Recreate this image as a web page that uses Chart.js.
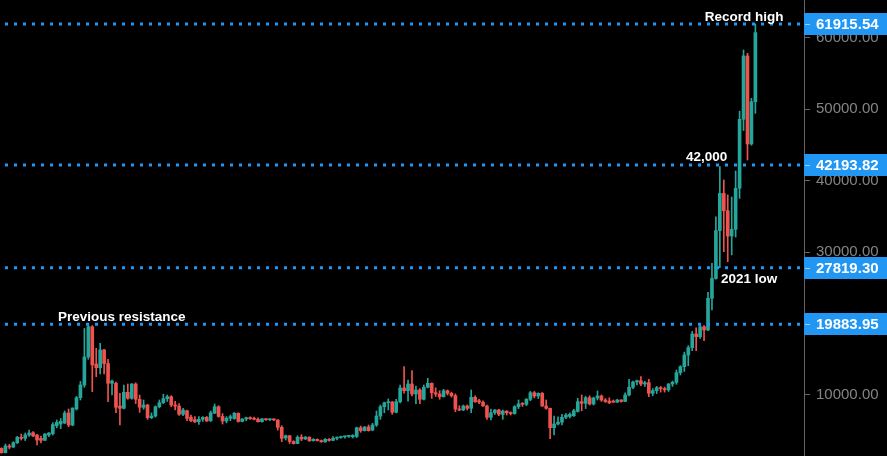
<!DOCTYPE html>
<html>
<head>
<meta charset="utf-8">
<script src="https://cdn.jsdelivr.net/npm/chart.js@4.4.1/dist/chart.umd.min.js"></script>
<style>
  html, body { margin: 0; padding: 0; background: #000; }
  #wrap { width: 887px; height: 456px; }
</style>
</head>
<body>
<div id="wrap"><canvas id="btcChart" width="887" height="456"></canvas></div>
<script>
// weekly candles, Jul 2017 -> Mar 2021
const opens = [
  2540,1930,2860,2720,3330,4080,3940,4400,4720,4400,3940,3660,4400,4600,5700,5940,6080,7480,5800,8040,
  9620,11400,15320,19550,14340,13820,16300,14400,11640,11640,8460,8140,10380,9540,11540,9400,8280,8600,6820,7060,
  8360,8920,9480,9760,8600,8460,7300,7800,6900,6560,6250,6600,6880,6400,7440,8360,7000,6360,6740,6700,
  7450,6300,6640,6820,6690,6600,6270,6670,6540,6600,6500,5480,4000,4300,3500,3200,4100,3850,4100,3600,
  3800,3620,3450,3800,3650,3950,4050,4150,4220,4150,4200,5420,5010,5520,5100,5800,7060,8360,8920,9020,
  7580,9060,10980,10600,11540,10140,10700,9400,11080,11640,10320,10140,9760,10600,10240,9900,8040,7900,8460,8140,
  9680,9200,9000,8460,6880,7520,7900,7300,7750,7520,7400,8360,8800,8700,9400,10320,9860,10240,8460,8140,
  5430,5940,6200,6880,7000,7100,7700,9060,8840,9620,8740,9580,9860,9300,9150,9150,9000,9300,9100,10000,
  11080,11820,12000,11540,11720,10240,10600,11020,10880,10720,11540,11780,13120,13960,15600,16620,18540,18160,19550,19100,
  23530,26300,33000,38200,35780,32240,33180,38920,48570,57430,45120,51030
];
const highs = [
  2620,3140,3100,3470,4220,4540,4680,5100,4870,4500,4260,4600,4750,6120,6500,6700,7760,8040,8200,9800,
  11900,19300,19884,19700,16530,17230,16400,15000,12100,11800,10240,11400,11540,11600,11700,10000,9300,8700,7500,8460,
  9300,10100,10000,9900,9100,8800,8140,7900,7200,6970,6970,6970,7000,7760,8740,8500,7400,6970,7200,7550,
  7500,6700,6900,6950,6900,6800,6700,6700,6650,6660,6550,5700,4400,4350,3600,4300,4450,4200,4150,3900,
  3850,3700,3900,3900,4200,4150,4250,4250,4350,4450,5500,5660,5600,5800,6040,7760,8600,9000,9440,9100,
  9400,11400,13960,12100,13400,11260,10900,11400,12340,11700,11000,10600,10800,10700,10400,10150,8500,8600,8600,10700,
  9900,9400,9200,8600,8040,7950,8000,7900,7800,7650,8500,9300,8950,9500,10500,10500,10300,10350,9300,8180,
  7060,6950,7300,7400,7500,8000,9540,10000,9800,9900,9700,10560,10000,9500,9600,9300,9400,9350,10320,12200,
  11950,12100,12560,11900,12200,10900,11200,11200,11100,11600,11950,13500,14100,16000,16900,18900,19400,19900,19700,24370,
  28420,34940,41950,40080,37980,37700,41340,49700,58270,57800,51500,61915.54
];
const lows = [
  1850,1900,2460,2640,3190,3700,3630,4200,4170,3000,3290,3600,4170,4400,5400,5300,6000,5560,5700,7900,
  9300,11080,15000,10460,12560,12940,12940,9060,10000,7520,5800,8040,9400,9400,8800,7580,8000,6600,6700,6900,
  8200,8800,9100,8360,7900,7160,7100,6400,6260,6120,5900,6300,6300,6300,7400,6900,5940,6100,6400,6600,
  6200,6250,6400,6600,6500,6200,6200,6450,6400,6420,5100,3470,3700,3200,3130,3180,3610,3750,3500,3550,
  3550,3400,3380,3550,3600,3700,3950,3950,4050,4000,4050,4780,4950,4950,5000,5600,6600,7520,7900,7300,
  7500,8900,10240,9150,9860,8800,8800,9300,11000,9540,9800,9400,9700,10000,9700,7660,7800,7800,7900,7520,
  8950,8800,8400,6600,6500,7300,7100,6600,7200,7200,7300,8100,8400,8500,9200,9600,9500,8400,8000,3900,
  4400,5800,5800,6700,6800,7000,7600,7800,8100,8600,8600,9300,9100,8950,8800,8950,8950,9000,9050,9860,
  10900,11400,11300,11200,9760,9900,10200,10400,10400,10500,11200,11500,12800,13300,14100,16200,16200,17900,17600,19000,
  21900,26200,27819.30,30050,28650,29600,32100,37500,47000,42880,44950,49400
];
const closes = [
  1930,2860,2720,3330,4080,3940,4400,4680,4260,3700,3660,4540,4680,5860,6180,6320,7480,5800,8180,9620,
  11400,15320,19550,14200,13820,16300,14400,11640,11960,8280,8140,10380,9540,11540,9400,8280,8600,6820,7060,8360,
  8920,9480,9760,8600,8460,7300,7900,6740,6400,6250,6600,6880,6360,7520,8360,7000,6360,6740,6970,7450,
  6300,6640,6820,6690,6600,6270,6670,6540,6600,6520,5480,3940,4300,3500,3200,4100,3850,4100,3600,3800,
  3620,3450,3800,3650,3950,4050,4150,4220,4300,4350,5420,5010,5520,5010,5800,7060,8360,8920,9020,7580,
  9060,10980,10600,11540,10140,10700,9400,11080,11640,10320,10140,9760,10600,10240,9900,8040,7900,8460,8140,9680,
  9060,9000,8460,6880,7520,7900,7300,7750,7520,7400,8360,8740,8700,9400,10320,9860,10240,8460,8140,5430,
  5940,6200,6880,7200,7300,7800,9060,8840,9620,8740,9580,9860,9300,9100,8900,9000,9300,9100,10000,11080,
  11820,12000,11540,11720,10240,10600,11020,10880,10720,11540,11780,13120,13960,15600,16620,18540,18160,19550,19100,23530,
  26300,33000,38200,35780,32240,33180,38920,48570,57430,45120,51030,60690
];

// horizontal levels and their notes
const levels = [61915.54, 42193.82, 27819.30, 19883.95];
const notes = ['Record high', '42,000', '2021 low', 'Previous resistance'];
const yTicks = [10000, 20000, 30000, 40000, 50000, 60000];

// where the notes sit (candle index of text start, px offset from the line)
const noteX = [178.2, 173.4, 182.3, 14.3];
const noteDy = [-3, -4, 15, -3];

const up = '#26a69a', down = '#ef5350';
const colors = opens.map((o, i) => closes[i] >= o ? up : down);
const xMin = -0.38, xMax = 203.32;

const levelTags = {
  id: 'levelTags',
  afterDraw(chart) {
    const { ctx, chartArea, scales: { x, y } } = chart;
    ctx.save();
    levels.forEach((lv, k) => {
      const py = Math.round(y.getPixelForValue(lv));
      ctx.fillStyle = '#2196f3';
      ctx.fillRect(chartArea.right, py - 11, chart.width - chartArea.right, 22);
      ctx.fillStyle = 'rgba(255,255,255,0.55)';
      ctx.fillRect(chartArea.right + 1, py, 5, 1);
      ctx.fillStyle = '#fff';
      ctx.font = 'bold 15px "Liberation Sans", Arial, sans-serif';
      ctx.textBaseline = 'middle';
      ctx.textAlign = 'left';
      ctx.fillText(lv.toFixed(2), chartArea.right + 12, py + 1);

      ctx.font = 'bold 13.5px "Liberation Sans", Arial, sans-serif';
      ctx.textBaseline = 'alphabetic';
      ctx.fillText(notes[k], x.getPixelForValue(noteX[k]), py + noteDy[k]);
    });
    ctx.restore();
  }
};

const lineSets = levels.map(lv => ({
  type: 'line',
  data: [{ x: xMin, y: lv }, { x: xMax, y: lv }],
  borderColor: '#2196f3',
  borderWidth: 3,
  borderDash: [3, 6],
  borderDashOffset: 4,
  pointRadius: 0,
  order: 0
}));

new Chart(document.getElementById('btcChart'), {
  type: 'bar',
  data: {
    datasets: [
      ...lineSets,
      {
        data: opens.map((o, i) => ({ x: i, y: [o, closes[i]] })),
        backgroundColor: colors,
        grouped: false,
        barPercentage: 1,
        categoryPercentage: 1,
        maxBarThickness: 3,
        minBarLength: 1,
        order: 1
      },
      {
        data: lows.map((l, i) => ({ x: i, y: [l, highs[i]] })),
        backgroundColor: colors,
        grouped: false,
        barPercentage: 1,
        categoryPercentage: 1,
        maxBarThickness: 1,
        order: 2
      }
    ]
  },
  options: {
    responsive: false,
    animation: false,
    devicePixelRatio: 1,
    layout: { padding: 0 },
    plugins: { legend: { display: false }, tooltip: { enabled: false } },
    scales: {
      x: { type: 'linear', display: false, min: xMin, max: xMax, offset: false },
      y: {
        position: 'right',
        min: 1466,
        max: 65260,
        bounds: 'data',
        afterBuildTicks: s => { s.ticks = yTicks.map(v => ({ value: v })); },
        afterFit: s => { s.width = 83; s.paddingTop = 0; s.paddingBottom = 0; },
        grid: { drawOnChartArea: false, drawTicks: true, tickLength: 6, color: '#666' },
        border: { display: true, color: '#666' },
        ticks: {
          padding: 6,
          color: '#848484',
          font: { family: '"Liberation Sans", Arial, sans-serif', size: 15 },
          callback: v => Number(v).toFixed(2)
        }
      }
    }
  },
  plugins: [levelTags]
});
</script>
</body>
</html>
